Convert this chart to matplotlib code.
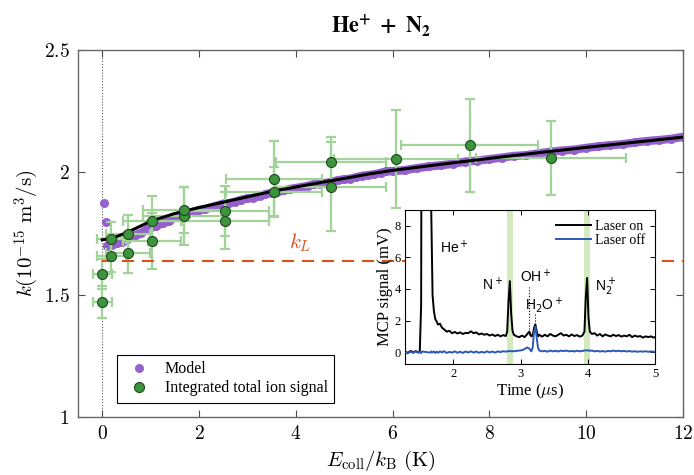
import numpy as np
import matplotlib.pyplot as plt

plt.rcParams['mathtext.fontset'] = 'cm'
plt.rcParams['font.family'] = 'serif'
plt.rcParams['font.serif'] = ['Liberation Serif', 'DejaVu Serif']

# measured rate coefficients (integrated total ion signal)
E_meas = [0, 0, 0.19, 0.19, 0.53, 0.53, 1.02, 1.02, 1.70, 1.70,
          2.54, 2.54, 3.55, 3.55, 4.73, 4.73, 6.07, 7.59, 9.27]
k_meas = [1.469, 1.585, 1.657, 1.729, 1.672, 1.749, 1.720, 1.802, 1.822, 1.846,
          1.803, 1.842, 1.921, 1.974, 1.942, 2.044, 2.056, 2.111, 2.059]
E_err = [0.2, 0.2, 0.3, 0.3, 0.45, 0.45, 0.6, 0.6, 0.85, 0.85,
         0.9, 0.9, 1.0, 1.0, 1.13, 1.13, 1.28, 1.41, 1.55]
k_err = [0.066, 0.06, 0.065, 0.067, 0.085, 0.077, 0.115, 0.10, 0.12, 0.095,
         0.115, 0.104, 0.10, 0.155, 0.18, 0.10, 0.20, 0.19, 0.15]

# model points
E_model = [0.04, 0.07, 0.10, 0.20, 0.30, 0.40, 0.50, 0.60, 0.70, 0.80, 0.90,
           1.00, 1.12, 1.25, 1.37, 1.50, 1.62, 1.75, 1.87, 2.00, 2.12,
           2.25, 2.37, 2.50, 2.62, 2.75, 2.87, 3.00, 3.12, 3.25, 3.37,
           3.50, 3.62, 3.75, 3.87, 4.00, 4.12, 4.25, 4.37, 4.50, 4.62,
           4.75, 4.87, 5.00, 5.12, 5.25, 5.37, 5.50, 5.62, 5.75, 5.87,
           6.00, 6.25, 6.50, 6.75, 7.00, 7.25, 7.50, 7.75, 8.00, 8.25,
           8.50, 8.75, 9.00, 9.25, 9.50, 9.75, 10.00, 10.25, 10.50, 10.75,
           11.00, 11.25, 11.50, 11.75, 12.00]
k_model = [1.873, 1.799, 1.700, 1.705, 1.710, 1.716, 1.722, 1.735, 1.745, 1.752, 1.764,
           1.775, 1.782, 1.792, 1.800, 1.816, 1.824, 1.830, 1.838, 1.846, 1.850,
           1.857, 1.864, 1.872, 1.874, 1.880, 1.888, 1.894, 1.896, 1.904, 1.910,
           1.917, 1.919, 1.926, 1.932, 1.936, 1.940, 1.945, 1.951, 1.954, 1.957,
           1.962, 1.968, 1.971, 1.974, 1.980, 1.986, 1.989, 1.992, 1.998, 2.004,
           2.005, 2.009, 2.017, 2.024, 2.029, 2.035, 2.044, 2.048, 2.054, 2.060,
           2.067, 2.070, 2.077, 2.084, 2.089, 2.093, 2.100, 2.106, 2.111, 2.115,
           2.122, 2.128, 2.132, 2.137, 2.145]

# fitted curve
E_fit = [0.0, 0.2, 0.5, 1.0, 1.5, 2.0, 2.5, 3.0, 3.5, 4.0, 4.5,
         5.0, 5.5, 6.0, 7.0, 8.0, 9.0, 10.0, 11.0, 12.0]
k_fit = [1.724, 1.730, 1.753, 1.800, 1.832, 1.856, 1.878, 1.900, 1.922, 1.940, 1.958,
         1.975, 1.993, 2.008, 2.033, 2.057, 2.080, 2.102, 2.123, 2.144]

k_L = 1.638

# inset: time-of-flight traces
t_us = [1.28, 1.32, 1.36, 1.40, 1.44, 1.48, 1.50, 1.52, 1.53, 1.66,
        1.67, 1.69, 1.71, 1.73, 1.75, 1.77, 1.80, 1.83, 1.86, 1.90,
        1.94, 1.98, 2.02, 2.06, 2.10, 2.14, 2.18, 2.22, 2.26, 2.30,
        2.34, 2.38, 2.42, 2.46, 2.50, 2.54, 2.58, 2.62, 2.66, 2.70,
        2.74, 2.78, 2.80, 2.82, 2.84, 2.86, 2.88, 2.90, 2.94, 2.98,
        3.02, 3.06, 3.10, 3.13, 3.16, 3.18, 3.20, 3.22, 3.24, 3.26,
        3.28, 3.32, 3.36, 3.40, 3.44, 3.48, 3.52, 3.56, 3.60, 3.64,
        3.68, 3.72, 3.76, 3.80, 3.84, 3.88, 3.92, 3.95, 3.97, 3.99,
        4.01, 4.03, 4.06, 4.10, 4.14, 4.18, 4.22, 4.26, 4.30, 4.34,
        4.38, 4.42, 4.46, 4.50, 4.54, 4.58, 4.62, 4.66, 4.70, 4.74,
        4.78, 4.82, 4.86, 4.90, 4.94, 4.98, 5.00]
laser_on = [0.05, -0.05, 0.08, 0.0, 0.06, -0.02, 0.1, 3.0, 25, 25,
            9.0, 3.6, 2.6, 2.1, 1.95, 1.75, 1.8, 1.55, 1.45, 1.3,
            1.35, 1.2, 1.28, 1.18, 1.25, 1.15, 1.22, 1.2, 1.32, 1.2,
            1.25, 1.12, 1.18, 1.1, 1.15, 1.05, 1.12, 1.02, 1.1, 1.0,
            1.08, 1.02, 1.3, 3.2, 4.5, 2.4, 1.35, 1.1, 1.0, 0.95,
            1.05, 0.95, 1.15, 1.3, 1.0, 1.05, 1.55, 1.75, 1.3, 1.0,
            1.1, 0.98, 1.1, 1.0, 1.15, 1.05, 1.0, 1.1, 1.2, 1.05,
            1.1, 1.0, 1.12, 1.02, 1.08, 0.98, 1.05, 1.3, 3.5, 4.7,
            2.2, 1.3, 1.15, 1.2, 1.05, 1.15, 1.0, 1.12, 1.05, 1.0,
            1.1, 1.02, 1.08, 0.98, 1.05, 1.0, 1.1, 0.95, 1.05, 0.98,
            1.02, 0.92, 1.0, 0.95, 1.0, 0.92, 0.95]
laser_off = [0.0, -0.08, 0.05, -0.05, 0.06, -0.04, 0.02, -0.06, 0.04, -0.03,
             0.05, -0.02, 0.04, -0.05, 0.03, -0.04, 0.05, -0.02, 0.06, -0.05,
             0.02, -0.03, 0.05, -0.04, 0.03, -0.05, 0.04, -0.02, 0.05, -0.03,
             0.04, -0.04, 0.02, -0.03, 0.05, -0.02, 0.04, -0.03, 0.05, 0.0,
             0.06, 0.03, 0.05, 0.06, 0.08, 0.05, 0.07, 0.05, 0.08, 0.1,
             0.12, 0.2, 0.3, 0.22, 0.05, 0.3, 1.3, 1.6, 0.9, 0.25,
             0.1, 0.05, 0.08, 0.03, 0.1, 0.05, 0.09, 0.04, 0.1, 0.06,
             0.1, 0.05, 0.08, 0.04, 0.09, 0.05, 0.08, 0.1, 0.12, 0.1,
             0.12, 0.08, 0.1, 0.05, 0.08, 0.04, 0.07, 0.03, 0.08, 0.05,
             0.1, 0.06, 0.09, 0.05, 0.08, 0.04, 0.07, 0.03, 0.06, 0.02,
             0.05, 0.03, 0.06, 0.02, 0.05, 0.02, 0.04]
band_lo = [2.80, 3.94]
band_hi = [2.89, 4.03]

purple = '#9461cc'
green = '#3d943d'
err_green = '#a2d49a'
red = '#d9531e'

fig = plt.figure(figsize=(6.94, 4.75), dpi=100)
ax = fig.add_axes([0.1124, 0.1221, 0.8718, 0.7726])

ax.axvline(0, color='0.35', lw=0.8, dashes=(1, 1.6), zorder=1)
ax.plot(E_model[2:], k_model[2:], '-', color=purple, lw=6, solid_capstyle='round', zorder=2)
ax.plot(E_model, k_model, 'o', color=purple, ms=6.5, mec='none', zorder=2, label='Model')
ax.errorbar(E_meas, k_meas, xerr=E_err, yerr=k_err, fmt='none', ecolor=err_green,
            elinewidth=1.6, capsize=3.5, capthick=1.6, zorder=3)
ax.plot(E_fit, k_fit, '-', color='k', lw=2.2, zorder=4)
ax.plot(E_meas, k_meas, 'o', color=green, mec='#1d4a1d', mew=0.8, ms=7.2, zorder=5,
        label='Integrated total ion signal')
ax.plot([0, 12], [k_L, k_L], color=red, lw=1.5, dashes=(5.8, 3.8), zorder=3)
ax.text(4.08, 1.711, '$k_L$', color=red, fontsize=15, ha='center', va='center')

ax.set_xlim(-0.5, 12)
ax.set_ylim(1, 2.5)
ax.set_xticks([0, 2, 4, 6, 8, 10, 12])
ax.set_xticklabels(['$%d$' % v for v in [0, 2, 4, 6, 8, 10, 12]], fontsize=14)
ax.set_yticks([1, 1.5, 2, 2.5])
ax.set_yticklabels(['$1$', '$1.5$', '$2$', '$2.5$'], fontsize=14)
ax.tick_params(direction='in', top=True, right=True, length=5, width=0.8, color='0.3', pad=6)
for s in ax.spines.values():
    s.set_color('0.4')
    s.set_linewidth(1.0)
ax.set_xlabel(r'$E_{\rm coll}/k_{\rm B}\ ({\rm K})$', fontsize=15, labelpad=4)
ax.set_ylabel(r'$k(10^{-15}\ {\rm m}^3/{\rm s})$', fontsize=15, labelpad=2)
ax.set_title(r'$\mathbf{He^{+}\ +\ N_{2}}$', fontsize=16, math_fontfamily='stix', pad=12)

leg = ax.legend(loc='lower left', bbox_to_anchor=(0.064, 0.039), borderaxespad=0,
                fontsize=11.5, fancybox=False, edgecolor='k', framealpha=1,
                numpoints=1, handletextpad=0.6, borderpad=0.4, labelspacing=0.2)
leg.get_frame().set_linewidth(0.8)

# inset
ax2 = fig.add_axes([0.5836, 0.2337, 0.3602, 0.3242])
for lo, hi in zip(band_lo, band_hi):
    ax2.axvspan(lo, hi, color='#d3eabf', lw=0, zorder=0)
ax2.plot(t_us, laser_on, color='k', lw=1.4, label='Laser on', zorder=2)
ax2.plot(t_us, laser_off, color='#2b59b5', lw=1.4, label='Laser off', zorder=3)
ax2.plot([3.12, 3.12], [1.1, 4.1], color='k', lw=0.8, ls=':', zorder=1)
ax2.plot([3.22, 3.22], [1.6, 2.4], color='k', lw=0.8, ls=':', zorder=1)
sans = dict(family='Liberation Sans', fontsize=10, math_fontfamily='dejavusans')
ax2.text(1.80, 6.6, 'He$^+$', va='center', **sans)
ax2.text(2.42, 4.3, 'N$^+$', va='center', **sans)
ax2.text(2.99, 4.77, 'OH$^+$', va='center', **sans)
ax2.text(3.07, 3.0, 'H$_2$O$^+$', va='center', **sans)
ax2.text(4.11, 4.1, 'N$_2^+$', va='center', **sans)
ax2.set_xlim(1.28, 5)
ax2.set_ylim(-0.75, 9)
ax2.set_xticks([2, 3, 4, 5])
ax2.set_yticks([0, 2, 4, 6, 8])
ax2.tick_params(direction='in', top=True, right=True, length=3.5, width=0.7,
                labelsize=9, pad=3)
ax2.set_xlabel(r'Time ($\mu$s)', fontsize=12, labelpad=1)
ax2.set_ylabel('MCP signal (mV)', fontsize=12, labelpad=1)
ax2.legend(loc='upper right', frameon=False, fontsize=10, handlelength=2.5,
           handletextpad=0.3, labelspacing=0.1, borderaxespad=0.3)

fig.savefig('out.png', dpi=100)
